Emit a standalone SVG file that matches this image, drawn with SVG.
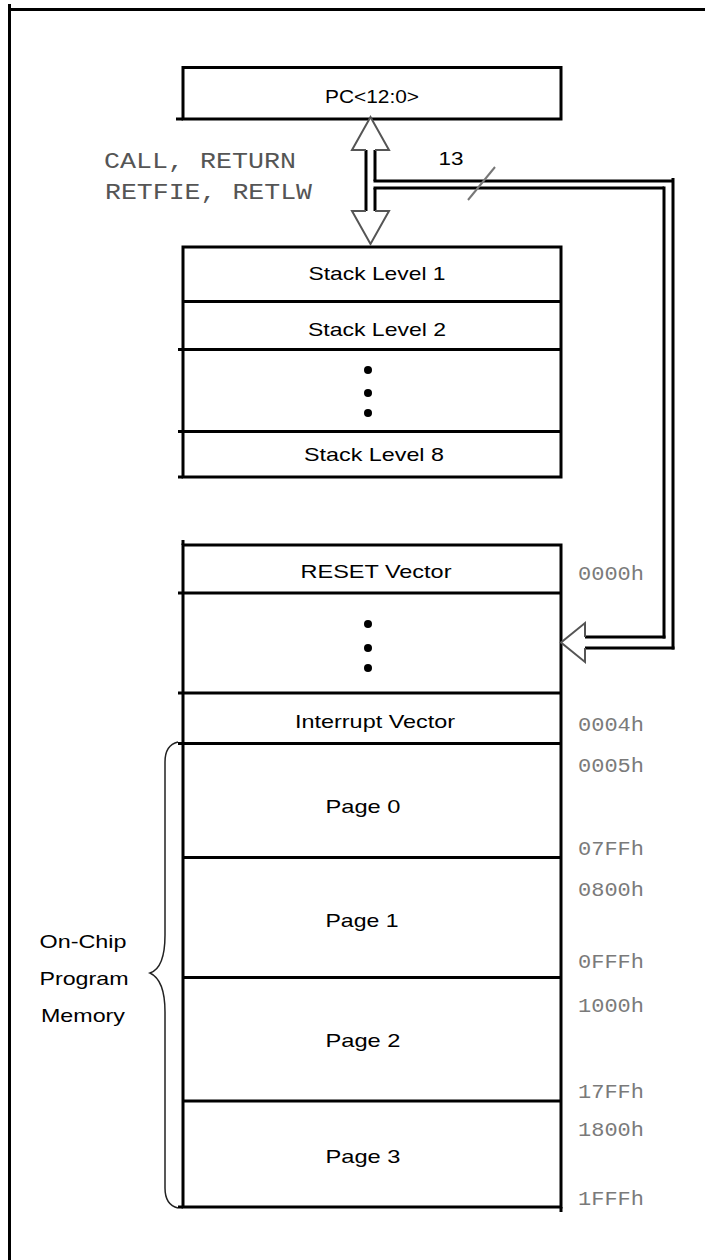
<svg xmlns="http://www.w3.org/2000/svg" width="705" height="1260" viewBox="0 0 705 1260">
<style>
.box{fill:#fff;stroke:#000;stroke-width:3}
.ln{stroke:#000;stroke-width:3;fill:none}
.ah{fill:#fff;stroke:#555;stroke-width:2;stroke-linejoin:miter}
.t{font-family:"Liberation Sans",Arial,sans-serif;font-size:19px;fill:#000;text-anchor:middle}
.m{font-family:"Liberation Mono","Courier New",monospace;font-size:22px;fill:#555}
.a{font-family:"Liberation Mono","Courier New",monospace;font-size:21px;fill:#7a7a7a}
.dot{fill:#000}
</style>
<rect width="705" height="1260" fill="#fff"/>
<g id="frame">
<line class="ln" x1="9.5" y1="4" x2="9.5" y2="1260"/>
<line class="ln" x1="8" y1="9.5" x2="705" y2="9.5"/>
</g>

<g id="pc">
<rect class="box" x="183" y="67.5" width="378" height="51.5"/>
<line class="ln" x1="176" y1="119" x2="183" y2="119"/>
<text class="t" x="372" y="103" textLength="94" lengthAdjust="spacingAndGlyphs">PC&lt;12:0&gt;</text>
</g>

<g id="call-label">
<text class="m" x="104" y="168" textLength="192" lengthAdjust="spacingAndGlyphs">CALL, RETURN</text>
<text class="m" x="105" y="199" textLength="207" lengthAdjust="spacingAndGlyphs">RETFIE, RETLW</text>
</g>

<g id="stack">
<rect class="box" x="183" y="247" width="378" height="230"/>
<line class="ln" x1="183" y1="301.5" x2="561" y2="301.5"/>
<line class="ln" x1="178" y1="349.5" x2="561" y2="349.5"/>
<line class="ln" x1="178" y1="431.5" x2="561" y2="431.5"/>
<line class="ln" x1="178" y1="477" x2="183" y2="477"/>
<text class="t" x="377" y="280" textLength="137" lengthAdjust="spacingAndGlyphs">Stack Level 1</text>
<text class="t" x="377" y="336" textLength="138" lengthAdjust="spacingAndGlyphs">Stack Level 2</text>
<circle class="dot" cx="368" cy="370" r="4"/>
<circle class="dot" cx="368" cy="393" r="4"/>
<circle class="dot" cx="368" cy="413" r="4"/>
<text class="t" x="374" y="461" textLength="140" lengthAdjust="spacingAndGlyphs">Stack Level 8</text>
</g>

<g id="memory">
<rect class="box" x="183" y="545" width="378" height="662"/>
<line class="ln" x1="183" y1="540" x2="183" y2="545"/>
<line class="ln" x1="178" y1="593" x2="561" y2="593"/>
<line class="ln" x1="178" y1="693" x2="561" y2="693"/>
<line class="ln" x1="178" y1="743.5" x2="561" y2="743.5"/>
<line class="ln" x1="183" y1="857.5" x2="561" y2="857.5"/>
<line class="ln" x1="183" y1="977.5" x2="561" y2="977.5"/>
<line class="ln" x1="183" y1="1101" x2="561" y2="1101"/>
<line class="ln" x1="178" y1="1207" x2="183" y2="1207"/>
<line class="ln" x1="561" y1="1207" x2="561" y2="1212"/>
<text class="t" x="376" y="578" textLength="151" lengthAdjust="spacingAndGlyphs">RESET Vector</text>
<circle class="dot" cx="368" cy="624" r="4"/>
<circle class="dot" cx="368" cy="648" r="4"/>
<circle class="dot" cx="368" cy="668" r="4"/>
<text class="t" x="375" y="728" textLength="160" lengthAdjust="spacingAndGlyphs">Interrupt Vector</text>
<text class="t" x="363" y="813" textLength="75" lengthAdjust="spacingAndGlyphs">Page 0</text>
<text class="t" x="362" y="927" textLength="73" lengthAdjust="spacingAndGlyphs">Page 1</text>
<text class="t" x="363" y="1047" textLength="75" lengthAdjust="spacingAndGlyphs">Page 2</text>
<text class="t" x="363" y="1163" textLength="75" lengthAdjust="spacingAndGlyphs">Page 3</text>
</g>

<g id="addresses">
<text class="a" x="578" y="580" textLength="66" lengthAdjust="spacingAndGlyphs">0000h</text>
<text class="a" x="578" y="731" textLength="66" lengthAdjust="spacingAndGlyphs">0004h</text>
<text class="a" x="578" y="772" textLength="66" lengthAdjust="spacingAndGlyphs">0005h</text>
<text class="a" x="578" y="855" textLength="66" lengthAdjust="spacingAndGlyphs">07FFh</text>
<text class="a" x="578" y="896" textLength="66" lengthAdjust="spacingAndGlyphs">0800h</text>
<text class="a" x="578" y="968" textLength="66" lengthAdjust="spacingAndGlyphs">0FFFh</text>
<text class="a" x="578" y="1012" textLength="66" lengthAdjust="spacingAndGlyphs">1000h</text>
<text class="a" x="578" y="1098" textLength="66" lengthAdjust="spacingAndGlyphs">17FFh</text>
<text class="a" x="578" y="1136" textLength="66" lengthAdjust="spacingAndGlyphs">1800h</text>
<text class="a" x="578" y="1205" textLength="66" lengthAdjust="spacingAndGlyphs">1FFFh</text>
</g>

<g id="onchip-label">
<path d="M178,742 Q165,745 165,762 V935 Q165,968 150,973 Q165,980 165,1012 V1188 Q165,1205 178,1208" fill="none" stroke="#222" stroke-width="1.5"/>
<text class="t" x="83" y="948" textLength="87" lengthAdjust="spacingAndGlyphs">On-Chip</text>
<text class="t" x="84" y="985" textLength="89" lengthAdjust="spacingAndGlyphs">Program</text>
<text class="t" x="83" y="1022" textLength="84" lengthAdjust="spacingAndGlyphs">Memory</text>
</g>

<g id="connectors">
<line class="ln" x1="366" y1="150" x2="366" y2="211"/>
<line class="ln" x1="375" y1="150" x2="375" y2="181"/>
<line class="ln" x1="375" y1="188" x2="375" y2="211"/>
<line class="ln" x1="373.5" y1="181" x2="673" y2="181"/>
<line class="ln" x1="373.5" y1="188" x2="664" y2="188"/>
<line class="ln" x1="673" y1="178" x2="673" y2="649.5"/>
<line class="ln" x1="664" y1="186.5" x2="664" y2="638.5"/>
<line class="ln" x1="585" y1="637" x2="665.5" y2="637"/>
<line class="ln" x1="585" y1="648" x2="674.5" y2="648"/>
<path class="ah" d="M366,150 H352 L370.5,117 L389,150 H375"/>
<path class="ah" d="M366,211 H352 L370.5,244 L389,211 H375"/>
<path class="ah" d="M585,637 V623 L561,642.5 L585,662 V648"/>
<line x1="495" y1="167" x2="468" y2="200" stroke="#777" stroke-width="2"/>
<text class="t" x="451" y="165" textLength="25" lengthAdjust="spacingAndGlyphs">13</text>
</g>
</svg>
